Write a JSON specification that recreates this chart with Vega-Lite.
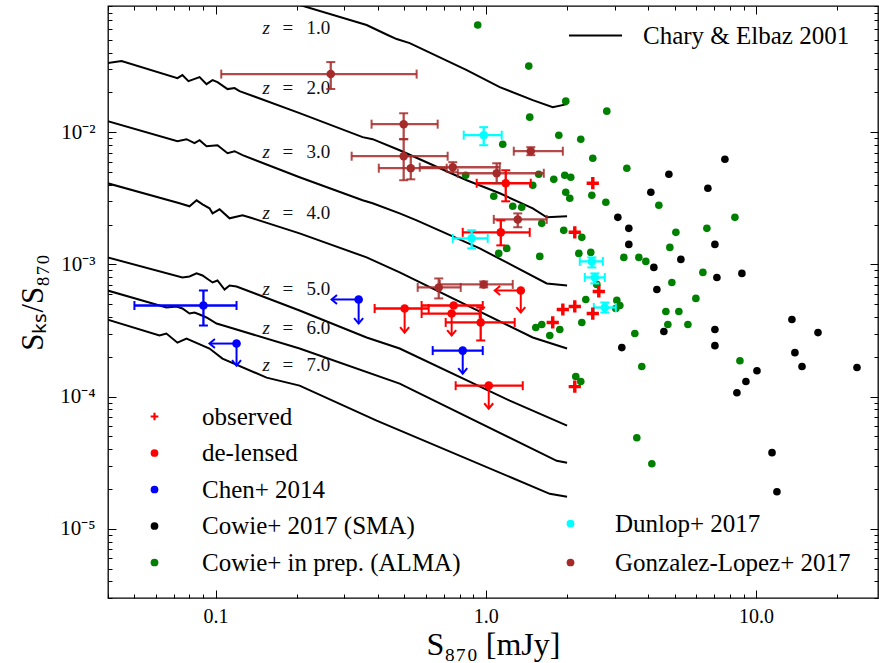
{
  "$schema": "https://vega.github.io/schema/vega-lite/v6.json",
  "width": 770,
  "height": 592,
  "autosize": {"type": "none"},
  "padding": {"left": 108, "top": 6, "right": 1, "bottom": 65},
  "background": "white",
  "config": {
    "view": {"stroke": "black", "strokeWidth": 1.3},
    "axis": {"grid": false, "domain": false, "tickColor": "black", "tickWidth": 1, "labelColor": "black", "titleColor": "black", "labelFont": "Liberation Serif", "titleFont": "Liberation Serif", "titleFontWeight": "normal"},
    "legend": {"labelFont": "Liberation Serif", "labelColor": "black"}
  },
  "datasets": {
    "curves": [
      {"z": "1", "x": 0.0398, "y": 0.2193}, {"z": "1", "x": 0.1227, "y": 0.1345}, {"z": "1", "x": 0.2047, "y": 0.0917}, {"z": "1", "x": 0.3624, "y": 0.0646}, {"z": "1", "x": 0.4335, "y": 0.0543}, {"z": "1", "x": 0.4682, "y": 0.0506}, {"z": "1", "x": 0.5232, "y": 0.0472}, {"z": "1", "x": 0.8505, "y": 0.0295}, {"z": "1", "x": 1.127, "y": 0.02193}, {"z": "1", "x": 1.493, "y": 0.01748}, {"z": "1", "x": 1.77, "y": 0.01547}, {"z": "1", "x": 2.0, "y": 0.0163},
      {"z": "2", "x": 0.0398, "y": 0.03333}, {"z": "2", "x": 0.0449, "y": 0.03451}, {"z": "2", "x": 0.0723, "y": 0.02564}, {"z": "2", "x": 0.0754, "y": 0.02703}, {"z": "2", "x": 0.0794, "y": 0.02434}, {"z": "2", "x": 0.0873, "y": 0.0261}, {"z": "2", "x": 0.0926, "y": 0.0231}, {"z": "2", "x": 0.0975, "y": 0.02477}, {"z": "2", "x": 0.1017, "y": 0.02392}, {"z": "2", "x": 0.1108, "y": 0.02118}, {"z": "2", "x": 0.1176, "y": 0.02154}, {"z": "2", "x": 0.1227, "y": 0.02045}, {"z": "2", "x": 0.2047, "y": 0.01393}, {"z": "2", "x": 0.3503, "y": 0.00917}, {"z": "2", "x": 0.3815, "y": 0.00885}, {"z": "2", "x": 0.4803, "y": 0.0073}, {"z": "2", "x": 0.8505, "y": 0.00433}, {"z": "2", "x": 1.127, "y": 0.00345}, {"z": "2", "x": 1.493, "y": 0.002655}, {"z": "2", "x": 1.682, "y": 0.00227}, {"z": "2", "x": 2.0, "y": 0.00231},
      {"z": "3", "x": 0.0398, "y": 0.01212}, {"z": "3", "x": 0.0723, "y": 0.00855}, {"z": "3", "x": 0.0781, "y": 0.00885}, {"z": "3", "x": 0.0836, "y": 0.00825}, {"z": "3", "x": 0.0873, "y": 0.0087}, {"z": "3", "x": 0.0926, "y": 0.00783}, {"z": "3", "x": 0.1017, "y": 0.00797}, {"z": "3", "x": 0.1108, "y": 0.00693}, {"z": "3", "x": 0.1176, "y": 0.00718}, {"z": "3", "x": 0.1259, "y": 0.0067}, {"z": "3", "x": 0.2047, "y": 0.00456}, {"z": "3", "x": 0.3503, "y": 0.003053}, {"z": "3", "x": 0.3815, "y": 0.002897}, {"z": "3", "x": 0.4803, "y": 0.002434}, {"z": "3", "x": 0.5552, "y": 0.002154}, {"z": "3", "x": 0.9501, "y": 0.001322}, {"z": "3", "x": 1.682, "y": 0.000718}, {"z": "3", "x": 2.0, "y": 0.000693},
      {"z": "4", "x": 0.0398, "y": 0.00411}, {"z": "4", "x": 0.0736, "y": 0.002897}, {"z": "4", "x": 0.0801, "y": 0.002751}, {"z": "4", "x": 0.0851, "y": 0.003053}, {"z": "4", "x": 0.0895, "y": 0.002848}, {"z": "4", "x": 0.095, "y": 0.002655}, {"z": "4", "x": 0.0975, "y": 0.002434}, {"z": "4", "x": 0.1035, "y": 0.00261}, {"z": "4", "x": 0.1127, "y": 0.002231}, {"z": "4", "x": 0.1259, "y": 0.00235}, {"z": "4", "x": 0.1371, "y": 0.002231}, {"z": "4", "x": 0.2047, "y": 0.001717}, {"z": "4", "x": 0.3624, "y": 0.00113}, {"z": "4", "x": 0.4803, "y": 0.00087}, {"z": "4", "x": 1.493, "y": 0.00028}, {"z": "4", "x": 2.0, "y": 0.000231},
      {"z": "5", "x": 0.0398, "y": 0.00113}, {"z": "5", "x": 0.0754, "y": 0.000797}, {"z": "5", "x": 0.0801, "y": 0.000811}, {"z": "5", "x": 0.0851, "y": 0.000855}, {"z": "5", "x": 0.0895, "y": 0.000825}, {"z": "5", "x": 0.0975, "y": 0.00073}, {"z": "5", "x": 0.1017, "y": 0.000756}, {"z": "5", "x": 0.108, "y": 0.000646}, {"z": "5", "x": 0.1127, "y": 0.000693}, {"z": "5", "x": 0.1196, "y": 0.000681}, {"z": "5", "x": 0.2047, "y": 0.000448}, {"z": "5", "x": 0.3624, "y": 0.00028}, {"z": "5", "x": 0.4803, "y": 0.000231}, {"z": "5", "x": 1.227, "y": 0.0000933}, {"z": "5", "x": 2.0, "y": 0.0000603},
      {"z": "6", "x": 0.0398, "y": 0.000635}, {"z": "6", "x": 0.0658, "y": 0.000472}, {"z": "6", "x": 0.0717, "y": 0.000481}, {"z": "6", "x": 0.0754, "y": 0.000464}, {"z": "6", "x": 0.0801, "y": 0.000425}, {"z": "6", "x": 0.0836, "y": 0.000433}, {"z": "6", "x": 0.0873, "y": 0.000418}, {"z": "6", "x": 0.0926, "y": 0.000397}, {"z": "6", "x": 0.1009, "y": 0.000357}, {"z": "6", "x": 0.1099, "y": 0.000339}, {"z": "6", "x": 0.2047, "y": 0.000231}, {"z": "6", "x": 0.4803, "y": 0.0001254}, {"z": "6", "x": 1.832, "y": 0.0000327}, {"z": "6", "x": 2.0, "y": 0.0000316},
      {"z": "7", "x": 0.0398, "y": 0.000383}, {"z": "7", "x": 0.062, "y": 0.00029}, {"z": "7", "x": 0.0658, "y": 0.0003}, {"z": "7", "x": 0.0723, "y": 0.000256}, {"z": "7", "x": 0.0781, "y": 0.000275}, {"z": "7", "x": 0.095, "y": 0.000231}, {"z": "7", "x": 0.1061, "y": 0.000194}, {"z": "7", "x": 0.1545, "y": 0.0001393}, {"z": "7", "x": 0.2047, "y": 0.0001212}, {"z": "7", "x": 0.3948, "y": 0.0000658}, {"z": "7", "x": 1.726, "y": 0.0000184}, {"z": "7", "x": 2.0, "y": 0.0000175}
    ],
    "zlab": [
      {"z": "1.0", "x": 0.1493, "y": 0.0614},
      {"z": "2.0", "x": 0.1493, "y": 0.02154},
      {"z": "3.0", "x": 0.1493, "y": 0.00706},
      {"z": "4.0", "x": 0.1493, "y": 0.002434},
      {"z": "5.0", "x": 0.1493, "y": 0.000646},
      {"z": "6.0", "x": 0.1493, "y": 0.000333},
      {"z": "7.0", "x": 0.1493, "y": 0.0001748}
    ],
    "pts": [
      {"series": "observed", "x": 2.49, "y": 0.00411},
      {"series": "observed", "x": 2.136, "y": 0.001748},
      {"series": "observed", "x": 2.621, "y": 0.000624},
      {"series": "observed", "x": 2.136, "y": 0.000481},
      {"series": "observed", "x": 1.929, "y": 0.000456},
      {"series": "observed", "x": 2.49, "y": 0.000425},
      {"series": "observed", "x": 1.77, "y": 0.000364},
      {"series": "observed", "x": 2.136, "y": 0.000119},
      {"series": "de-lensed", "x": 1.186, "y": 0.00411, "xlo": 0.926, "xhi": 1.468, "ylo": 0.003, "yhi": 0.00515},
      {"series": "de-lensed", "x": 1.137, "y": 0.001748, "xlo": 0.822, "xhi": 1.455, "ylo": 0.001393, "yhi": 0.002154},
      {"series": "de-lensed", "x": 1.348, "y": 0.000635, "xlim": 1.08, "ylim": 0.000433},
      {"series": "de-lensed", "x": 0.501, "y": 0.000464, "xlo": 0.388, "xhi": 0.615, "ylim": 0.000305},
      {"series": "de-lensed", "x": 0.761, "y": 0.000489, "xlo": 0.579, "xhi": 0.975},
      {"series": "de-lensed", "x": 0.748, "y": 0.000425, "xlo": 0.579, "xhi": 0.95, "ylim": 0.00029},
      {"series": "de-lensed", "x": 0.958, "y": 0.000364, "xlo": 0.711, "xhi": 1.28, "ylo": 0.000266, "yhi": 0.000472},
      {"series": "de-lensed", "x": 1.026, "y": 0.000121, "xlo": 0.774, "xhi": 1.371, "ylim": 0.0000811},
      {"series": "Chen+ 2014", "x": 0.0902, "y": 0.000489, "xlo": 0.0501, "xhi": 0.1196, "ylo": 0.000345, "yhi": 0.000635},
      {"series": "Chen+ 2014", "x": 0.3386, "y": 0.000543, "xlim": 0.2689, "ylim": 0.000357},
      {"series": "Chen+ 2014", "x": 0.1196, "y": 0.000252, "xlim": 0.095, "ylim": 0.0001717},
      {"series": "Chen+ 2014", "x": 0.822, "y": 0.000223, "xlo": 0.6364, "xhi": 0.975, "ylim": 0.0001494},
      {"series": "Dunlop+ 2017", "x": 0.983, "y": 0.00949, "xlo": 0.829, "xhi": 1.146, "ylo": 0.00797, "yhi": 0.01091},
      {"series": "Dunlop+ 2017", "x": 0.887, "y": 0.001574, "xlo": 0.755, "xhi": 1.017, "ylo": 0.001322, "yhi": 0.00181},
      {"series": "Dunlop+ 2017", "x": 2.47, "y": 0.001054, "xlo": 2.229, "xhi": 2.713, "ylo": 0.000949, "yhi": 0.00113},
      {"series": "Dunlop+ 2017", "x": 2.534, "y": 0.000797, "xlo": 2.326, "xhi": 2.759, "ylo": 0.000718, "yhi": 0.000855},
      {"series": "Dunlop+ 2017", "x": 2.759, "y": 0.000472, "xlo": 2.512, "xhi": 3.03, "ylo": 0.000433, "yhi": 0.000515},
      {"series": "Gonzalez-Lopez+ 2017", "x": 0.267, "y": 0.0275, "xlo": 0.105, "xhi": 0.555, "ylo": 0.0212, "yhi": 0.0339},
      {"series": "Gonzalez-Lopez+ 2017", "x": 0.497, "y": 0.0115, "xlo": 0.378, "xhi": 0.664, "ylo": 0.00885, "yhi": 0.0139},
      {"series": "Gonzalez-Lopez+ 2017", "x": 0.497, "y": 0.00658, "xlo": 0.319, "xhi": 0.723, "ylo": 0.00433, "yhi": 0.00885},
      {"series": "Gonzalez-Lopez+ 2017", "x": 0.528, "y": 0.00534, "xlo": 0.402, "xhi": 0.717, "ylo": 0.0044, "yhi": 0.00658},
      {"series": "Gonzalez-Lopez+ 2017", "x": 0.755, "y": 0.00543, "xlo": 0.57, "xhi": 1.127, "ylo": 0.00498, "yhi": 0.00593},
      {"series": "Gonzalez-Lopez+ 2017", "x": 1.098, "y": 0.00489, "xlo": 0.788, "xhi": 1.64, "ylo": 0.00411, "yhi": 0.00582},
      {"series": "Gonzalez-Lopez+ 2017", "x": 1.468, "y": 0.00718, "xlo": 1.27, "xhi": 1.929, "ylo": 0.0067, "yhi": 0.0077},
      {"series": "Gonzalez-Lopez+ 2017", "x": 1.314, "y": 0.00219, "xlo": 1.071, "xhi": 1.682, "ylo": 0.00191, "yhi": 0.00243},
      {"series": "Gonzalez-Lopez+ 2017", "x": 0.67, "y": 0.00067, "xlo": 0.56, "xhi": 0.808, "ylo": 0.000553, "yhi": 0.000783},
      {"series": "Gonzalez-Lopez+ 2017", "x": 0.983, "y": 0.000706, "xlo": 0.676, "xhi": 1.259, "ylo": 0.00067, "yhi": 0.000743},
      {"series": "Cowie+ 2017 (SMA)", "x": 7.677, "y": 0.00624},
      {"series": "Cowie+ 2017 (SMA)", "x": 4.763, "y": 0.00481},
      {"series": "Cowie+ 2017 (SMA)", "x": 6.64, "y": 0.003765},
      {"series": "Cowie+ 2017 (SMA)", "x": 4.084, "y": 0.00351},
      {"series": "Cowie+ 2017 (SMA)", "x": 3.083, "y": 0.00227},
      {"series": "Cowie+ 2017 (SMA)", "x": 3.385, "y": 0.001874},
      {"series": "Cowie+ 2017 (SMA)", "x": 3.385, "y": 0.001417},
      {"series": "Cowie+ 2017 (SMA)", "x": 7.05, "y": 0.001417},
      {"series": "Cowie+ 2017 (SMA)", "x": 5.275, "y": 0.001091},
      {"series": "Cowie+ 2017 (SMA)", "x": 4.19, "y": 0.000949},
      {"series": "Cowie+ 2017 (SMA)", "x": 8.874, "y": 0.000855},
      {"series": "Cowie+ 2017 (SMA)", "x": 7.171, "y": 0.000797},
      {"series": "Cowie+ 2017 (SMA)", "x": 4.299, "y": 0.000646},
      {"series": "Cowie+ 2017 (SMA)", "x": 13.59, "y": 0.000383},
      {"series": "Cowie+ 2017 (SMA)", "x": 16.97, "y": 0.000305},
      {"series": "Cowie+ 2017 (SMA)", "x": 7.05, "y": 0.000322},
      {"series": "Cowie+ 2017 (SMA)", "x": 4.563, "y": 0.000311},
      {"series": "Cowie+ 2017 (SMA)", "x": 3.189, "y": 0.000235},
      {"series": "Cowie+ 2017 (SMA)", "x": 7.05, "y": 0.000243},
      {"series": "Cowie+ 2017 (SMA)", "x": 13.94, "y": 0.000215},
      {"series": "Cowie+ 2017 (SMA)", "x": 14.81, "y": 0.000169},
      {"series": "Cowie+ 2017 (SMA)", "x": 23.66, "y": 0.000166},
      {"series": "Cowie+ 2017 (SMA)", "x": 10.09, "y": 0.000157},
      {"series": "Cowie+ 2017 (SMA)", "x": 9.183, "y": 0.00013},
      {"series": "Cowie+ 2017 (SMA)", "x": 8.504, "y": 0.000107},
      {"series": "Cowie+ 2017 (SMA)", "x": 11.47, "y": 0.0000377},
      {"series": "Cowie+ 2017 (SMA)", "x": 11.96, "y": 0.0000191},
      {"series": "Cowie+ in prep. (ALMA)", "x": 0.934, "y": 0.0646},
      {"series": "Cowie+ in prep. (ALMA)", "x": 1.443, "y": 0.03162},
      {"series": "Cowie+ in prep. (ALMA)", "x": 1.978, "y": 0.01717},
      {"series": "Cowie+ in prep. (ALMA)", "x": 2.806, "y": 0.01442},
      {"series": "Cowie+ in prep. (ALMA)", "x": 1.455, "y": 0.01299},
      {"series": "Cowie+ in prep. (ALMA)", "x": 1.864, "y": 0.00949},
      {"series": "Cowie+ in prep. (ALMA)", "x": 2.248, "y": 0.00885},
      {"series": "Cowie+ in prep. (ALMA)", "x": 1.156, "y": 0.00811},
      {"series": "Cowie+ in prep. (ALMA)", "x": 2.49, "y": 0.00635},
      {"series": "Cowie+ in prep. (ALMA)", "x": 3.328, "y": 0.00534},
      {"series": "Cowie+ in prep. (ALMA)", "x": 0.843, "y": 0.00472},
      {"series": "Cowie+ in prep. (ALMA)", "x": 1.571, "y": 0.00481},
      {"series": "Cowie+ in prep. (ALMA)", "x": 1.786, "y": 0.0044},
      {"series": "Cowie+ in prep. (ALMA)", "x": 1.961, "y": 0.00472},
      {"series": "Cowie+ in prep. (ALMA)", "x": 2.064, "y": 0.00456},
      {"series": "Cowie+ in prep. (ALMA)", "x": 1.493, "y": 0.00397},
      {"series": "Cowie+ in prep. (ALMA)", "x": 1.071, "y": 0.003273},
      {"series": "Cowie+ in prep. (ALMA)", "x": 1.978, "y": 0.00351},
      {"series": "Cowie+ in prep. (ALMA)", "x": 2.047, "y": 0.003162},
      {"series": "Cowie+ in prep. (ALMA)", "x": 2.47, "y": 0.003333},
      {"series": "Cowie+ in prep. (ALMA)", "x": 2.783, "y": 0.002949},
      {"series": "Cowie+ in prep. (ALMA)", "x": 4.372, "y": 0.0028},
      {"series": "Cowie+ in prep. (ALMA)", "x": 1.259, "y": 0.002751},
      {"series": "Cowie+ in prep. (ALMA)", "x": 1.359, "y": 0.002703},
      {"series": "Cowie+ in prep. (ALMA)", "x": 8.36, "y": 0.00227},
      {"series": "Cowie+ in prep. (ALMA)", "x": 1.944, "y": 0.00181},
      {"series": "Cowie+ in prep. (ALMA)", "x": 2.268, "y": 0.001602},
      {"series": "Cowie+ in prep. (ALMA)", "x": 6.584, "y": 0.001874},
      {"series": "Cowie+ in prep. (ALMA)", "x": 5.055, "y": 0.001748},
      {"series": "Cowie+ in prep. (ALMA)", "x": 4.802, "y": 0.001345},
      {"series": "Cowie+ in prep. (ALMA)", "x": 1.585, "y": 0.00115},
      {"series": "Cowie+ in prep. (ALMA)", "x": 2.211, "y": 0.001212},
      {"series": "Cowie+ in prep. (ALMA)", "x": 2.448, "y": 0.001233},
      {"series": "Cowie+ in prep. (ALMA)", "x": 3.244, "y": 0.00113},
      {"series": "Cowie+ in prep. (ALMA)", "x": 3.687, "y": 0.00113},
      {"series": "Cowie+ in prep. (ALMA)", "x": 3.914, "y": 0.001054},
      {"series": "Cowie+ in prep. (ALMA)", "x": 6.364, "y": 0.00087},
      {"series": "Cowie+ in prep. (ALMA)", "x": 4.885, "y": 0.00073},
      {"series": "Cowie+ in prep. (ALMA)", "x": 2.577, "y": 0.000706},
      {"series": "Cowie+ in prep. (ALMA)", "x": 5.995, "y": 0.000553},
      {"series": "Cowie+ in prep. (ALMA)", "x": 2.346, "y": 0.000543},
      {"series": "Cowie+ in prep. (ALMA)", "x": 3.057, "y": 0.000534},
      {"series": "Cowie+ in prep. (ALMA)", "x": 3.136, "y": 0.000489},
      {"series": "Cowie+ in prep. (ALMA)", "x": 3.03, "y": 0.000464},
      {"series": "Cowie+ in prep. (ALMA)", "x": 4.642, "y": 0.00044},
      {"series": "Cowie+ in prep. (ALMA)", "x": 5.185, "y": 0.00044},
      {"series": "Cowie+ in prep. (ALMA)", "x": 2.268, "y": 0.000364},
      {"series": "Cowie+ in prep. (ALMA)", "x": 1.88, "y": 0.000322},
      {"series": "Cowie+ in prep. (ALMA)", "x": 1.726, "y": 0.00029},
      {"series": "Cowie+ in prep. (ALMA)", "x": 4.721, "y": 0.000351},
      {"series": "Cowie+ in prep. (ALMA)", "x": 5.601, "y": 0.000351},
      {"series": "Cowie+ in prep. (ALMA)", "x": 3.563, "y": 0.0003},
      {"series": "Cowie+ in prep. (ALMA)", "x": 3.781, "y": 0.000169},
      {"series": "Cowie+ in prep. (ALMA)", "x": 8.725, "y": 0.000187},
      {"series": "Cowie+ in prep. (ALMA)", "x": 2.154, "y": 0.000142},
      {"series": "Cowie+ in prep. (ALMA)", "x": 2.248, "y": 0.00013},
      {"series": "Cowie+ in prep. (ALMA)", "x": 3.624, "y": 0.0000489},
      {"series": "Cowie+ in prep. (ALMA)", "x": 4.119, "y": 0.0000311},
      {"series": "Cowie+ in prep. (ALMA)", "x": 1.196, "y": 0.001322},
      {"series": "Cowie+ in prep. (ALMA)", "x": 1.117, "y": 0.001212},
      {"series": "Cowie+ in prep. (ALMA)", "x": 1.532, "y": 0.000333},
      {"series": "Cowie+ in prep. (ALMA)", "x": 1.612, "y": 0.000351},
      {"series": "Cowie+ in prep. (ALMA)", "x": 1.612, "y": 0.002045}
    ]
  },
  "layer": [
    {
      "layer": [
        {
          "data": {"name": "curves"},
          "mark": {"type": "line", "clip": true, "strokeWidth": 2},
          "encoding": {
            "x": {"field": "x", "type": "quantitative", "scale": {"type": "log", "domain": [0.04, 28.3], "nice": false}, "title": "S₈₇₀ [mJy]",
              "axis": {"orient": "bottom", "values": [0.1, 1, 10], "offset": -8, "tickSize": 8,
                "labelExpr": "datum.value == 0.1 ? '0.1' : datum.value == 1 ? '1.0' : '10.0'",
                "labelFontSize": 20, "labelPadding": 8, "labelOverlap": false, "labelFlush": false, "titleFontSize": 32, "titlePadding": 3}},
            "y": {"field": "y", "type": "quantitative", "scale": {"type": "log", "domain": [0.000003, 0.09], "nice": false}, "title": "Sₖₛ/S₈₇₀",
              "axis": {"orient": "left", "values": [0.00001, 0.0001, 0.001, 0.01], "offset": -8, "tickSize": 8,
                "labelExpr": "datum.value == 0.01 ? '10⁻²' : datum.value == 0.001 ? '10⁻³' : datum.value == 0.0001 ? '10⁻⁴' : '10⁻⁵'",
                "labelFontSize": 21, "labelPadding": 13, "labelOverlap": false, "labelFlush": false, "titleFontSize": 31, "titlePadding": 10}},
            "detail": {"field": "z", "type": "nominal"},
            "order": {"field": "x", "type": "quantitative"},
            "stroke": {"datum": "Chary & Elbaz 2001", "type": "nominal", "scale": {"domain": ["Chary & Elbaz 2001"], "range": ["#000000"]},
              "legend": {"orient": "none", "legendX": 460, "legendY": 2, "title": null, "symbolType": "stroke", "symbolSize": 2809, "symbolStrokeWidth": 2, "labelFontSize": 25, "labelOffset": 20, "padding": 0, "labelLimit": 400}}
          }
        },
        {
          "data": {"name": "zlab"},
          "mark": {"type": "text", "align": "left", "baseline": "middle", "font": "Liberation Serif", "fontSize": 19, "fontStyle": "italic", "color": "#111111"},
          "encoding": {
            "x": {"field": "x", "type": "quantitative", "scale": {"type": "log", "domain": [0.04, 28.3], "nice": false}, "title": "S₈₇₀ [mJy]"},
            "y": {"field": "y", "type": "quantitative", "scale": {"type": "log", "domain": [0.000003, 0.09], "nice": false}, "title": "Sₖₛ/S₈₇₀"},
            "text": {"value": "z"}
          }
        },
        {
          "data": {"name": "zlab"},
          "mark": {"type": "text", "align": "left", "baseline": "middle", "font": "Liberation Serif", "fontSize": 19, "dx": 20, "color": "#111111"},
          "encoding": {
            "x": {"field": "x", "type": "quantitative", "scale": {"type": "log", "domain": [0.04, 28.3], "nice": false}, "title": "S₈₇₀ [mJy]"},
            "y": {"field": "y", "type": "quantitative", "scale": {"type": "log", "domain": [0.000003, 0.09], "nice": false}, "title": "Sₖₛ/S₈₇₀"},
            "text": {"value": "="}
          }
        },
        {
          "data": {"name": "zlab"},
          "mark": {"type": "text", "align": "left", "baseline": "middle", "font": "Liberation Serif", "fontSize": 19, "dx": 44, "color": "#111111"},
          "encoding": {
            "x": {"field": "x", "type": "quantitative", "scale": {"type": "log", "domain": [0.04, 28.3], "nice": false}, "title": "S₈₇₀ [mJy]"},
            "y": {"field": "y", "type": "quantitative", "scale": {"type": "log", "domain": [0.000003, 0.09], "nice": false}, "title": "Sₖₛ/S₈₇₀"},
            "text": {"field": "z", "type": "nominal"}
          }
        },
        {
          "data": {"name": "pts"},
          "transform": [{"filter": "datum.series == 'Cowie+ 2017 (SMA)' || datum.series == 'Cowie+ in prep. (ALMA)'"}],
          "mark": {"type": "point", "filled": true, "opacity": 1, "size": 58, "strokeWidth": 0, "clip": true},
          "encoding": {
            "x": {"field": "x", "type": "quantitative", "scale": {"type": "log", "domain": [0.04, 28.3], "nice": false}, "title": "S₈₇₀ [mJy]"},
            "y": {"field": "y", "type": "quantitative", "scale": {"type": "log", "domain": [0.000003, 0.09], "nice": false}, "title": "Sₖₛ/S₈₇₀"},
            "color": {"field": "series", "type": "nominal", "scale": {"domain": ["observed", "de-lensed", "Chen+ 2014", "Cowie+ 2017 (SMA)", "Cowie+ in prep. (ALMA)"], "range": ["#ff0000", "#ff0000", "#0000ff", "#000000", "#008000"]},
              "legend": {"orient": "none", "legendX": 34, "legendY": 398, "title": null, "symbolSize": 60, "symbolStrokeWidth": 0, "labelFontSize": 25, "labelOffset": 35, "rowPadding": 10.5, "padding": 0, "labelLimit": 400}},
            "shape": {"field": "series", "type": "nominal", "scale": {"domain": ["observed", "de-lensed", "Chen+ 2014", "Cowie+ 2017 (SMA)", "Cowie+ in prep. (ALMA)"], "range": ["M-1,-0.28H-0.28V-1H0.28V-0.28H1V0.28H0.28V1H-0.28V0.28H-1Z", "circle", "circle", "circle", "circle"]}}
          }
        },
        {
          "data": {"name": "pts"},
          "transform": [{"filter": "isValid(datum.xlo)"}],
          "mark": {"type": "rule", "strokeWidth": 2.3},
          "encoding": {
            "x": {"field": "xlo", "type": "quantitative", "scale": {"type": "log", "domain": [0.04, 28.3], "nice": false}, "title": "S₈₇₀ [mJy]"},
            "x2": {"field": "xhi"},
            "y": {"field": "y", "type": "quantitative", "scale": {"type": "log", "domain": [0.000003, 0.09], "nice": false}, "title": "Sₖₛ/S₈₇₀"},
            "color": {"condition": [{"test": "datum.series == 'Gonzalez-Lopez+ 2017'", "value": "#a52a2a"}, {"test": "datum.series == 'Dunlop+ 2017'", "value": "#00ffff"}, {"test": "datum.series == 'Chen+ 2014'", "value": "#0000ff"}], "value": "#ff0000"},
            "opacity": {"condition": {"test": "datum.series == 'Gonzalez-Lopez+ 2017'", "value": 0.85}, "value": 1}
          }
        },
        {
          "data": {"name": "pts"},
          "transform": [{"filter": "isValid(datum.ylo)"}],
          "mark": {"type": "rule", "strokeWidth": 2.3},
          "encoding": {
            "x": {"field": "x", "type": "quantitative", "scale": {"type": "log", "domain": [0.04, 28.3], "nice": false}, "title": "S₈₇₀ [mJy]"},
            "y": {"field": "ylo", "type": "quantitative", "scale": {"type": "log", "domain": [0.000003, 0.09], "nice": false}, "title": "Sₖₛ/S₈₇₀"},
            "y2": {"field": "yhi"},
            "color": {"condition": [{"test": "datum.series == 'Gonzalez-Lopez+ 2017'", "value": "#a52a2a"}, {"test": "datum.series == 'Dunlop+ 2017'", "value": "#00ffff"}, {"test": "datum.series == 'Chen+ 2014'", "value": "#0000ff"}], "value": "#ff0000"},
            "opacity": {"condition": {"test": "datum.series == 'Gonzalez-Lopez+ 2017'", "value": 0.85}, "value": 1}
          }
        },
        {
          "data": {"name": "pts"},
          "transform": [{"filter": "isValid(datum.xlo)"}, {"fold": ["xlo", "xhi"], "as": ["k", "xv"]}],
          "mark": {"type": "tick", "orient": "vertical", "size": 9, "thickness": 2},
          "encoding": {
            "x": {"field": "xv", "type": "quantitative", "scale": {"type": "log", "domain": [0.04, 28.3], "nice": false}, "title": "S₈₇₀ [mJy]"},
            "y": {"field": "y", "type": "quantitative", "scale": {"type": "log", "domain": [0.000003, 0.09], "nice": false}, "title": "Sₖₛ/S₈₇₀"},
            "color": {"condition": [{"test": "datum.series == 'Gonzalez-Lopez+ 2017'", "value": "#a52a2a"}, {"test": "datum.series == 'Dunlop+ 2017'", "value": "#00ffff"}, {"test": "datum.series == 'Chen+ 2014'", "value": "#0000ff"}], "value": "#ff0000"},
            "opacity": {"condition": {"test": "datum.series == 'Gonzalez-Lopez+ 2017'", "value": 0.85}, "value": 1}
          }
        },
        {
          "data": {"name": "pts"},
          "transform": [{"filter": "isValid(datum.ylo)"}, {"fold": ["ylo", "yhi"], "as": ["k", "yv"]}],
          "mark": {"type": "tick", "orient": "horizontal", "size": 9, "thickness": 2},
          "encoding": {
            "x": {"field": "x", "type": "quantitative", "scale": {"type": "log", "domain": [0.04, 28.3], "nice": false}, "title": "S₈₇₀ [mJy]"},
            "y": {"field": "yv", "type": "quantitative", "scale": {"type": "log", "domain": [0.000003, 0.09], "nice": false}, "title": "Sₖₛ/S₈₇₀"},
            "color": {"condition": [{"test": "datum.series == 'Gonzalez-Lopez+ 2017'", "value": "#a52a2a"}, {"test": "datum.series == 'Dunlop+ 2017'", "value": "#00ffff"}, {"test": "datum.series == 'Chen+ 2014'", "value": "#0000ff"}], "value": "#ff0000"},
            "opacity": {"condition": {"test": "datum.series == 'Gonzalez-Lopez+ 2017'", "value": 0.85}, "value": 1}
          }
        },
        {
          "data": {"name": "pts"},
          "transform": [{"filter": "isValid(datum.ylim)"}],
          "mark": {"type": "rule", "strokeWidth": 2},
          "encoding": {
            "x": {"field": "x", "type": "quantitative", "scale": {"type": "log", "domain": [0.04, 28.3], "nice": false}, "title": "S₈₇₀ [mJy]"},
            "y": {"field": "y", "type": "quantitative", "scale": {"type": "log", "domain": [0.000003, 0.09], "nice": false}, "title": "Sₖₛ/S₈₇₀"},
            "y2": {"field": "ylim"},
            "color": {"condition": {"test": "datum.series == 'Chen+ 2014'", "value": "#0000ff"}, "value": "#ff0000"}
          }
        },
        {
          "data": {"name": "pts"},
          "transform": [{"filter": "isValid(datum.ylim)"}],
          "mark": {"type": "point", "filled": false, "strokeWidth": 2, "size": 81, "shape": "M-1,-1.2L0,0L1,-1.2", "opacity": 1},
          "encoding": {
            "x": {"field": "x", "type": "quantitative", "scale": {"type": "log", "domain": [0.04, 28.3], "nice": false}, "title": "S₈₇₀ [mJy]"},
            "y": {"field": "ylim", "type": "quantitative", "scale": {"type": "log", "domain": [0.000003, 0.09], "nice": false}, "title": "Sₖₛ/S₈₇₀"},
            "color": {"condition": {"test": "datum.series == 'Chen+ 2014'", "value": "#0000ff"}, "value": "#ff0000"}
          }
        },
        {
          "data": {"name": "pts"},
          "transform": [{"filter": "isValid(datum.xlim)"}],
          "mark": {"type": "rule", "strokeWidth": 2},
          "encoding": {
            "x": {"field": "x", "type": "quantitative", "scale": {"type": "log", "domain": [0.04, 28.3], "nice": false}, "title": "S₈₇₀ [mJy]"},
            "x2": {"field": "xlim"},
            "y": {"field": "y", "type": "quantitative", "scale": {"type": "log", "domain": [0.000003, 0.09], "nice": false}, "title": "Sₖₛ/S₈₇₀"},
            "color": {"condition": {"test": "datum.series == 'Chen+ 2014'", "value": "#0000ff"}, "value": "#ff0000"}
          }
        },
        {
          "data": {"name": "pts"},
          "transform": [{"filter": "isValid(datum.xlim)"}],
          "mark": {"type": "point", "filled": false, "strokeWidth": 2, "size": 81, "shape": "M1.2,-1L0,0L1.2,1", "opacity": 1},
          "encoding": {
            "x": {"field": "xlim", "type": "quantitative", "scale": {"type": "log", "domain": [0.04, 28.3], "nice": false}, "title": "S₈₇₀ [mJy]"},
            "y": {"field": "y", "type": "quantitative", "scale": {"type": "log", "domain": [0.000003, 0.09], "nice": false}, "title": "Sₖₛ/S₈₇₀"},
            "color": {"condition": {"test": "datum.series == 'Chen+ 2014'", "value": "#0000ff"}, "value": "#ff0000"}
          }
        },
        {
          "data": {"name": "pts"},
          "transform": [{"filter": "datum.series == 'observed' || datum.series == 'de-lensed' || datum.series == 'Chen+ 2014'"}],
          "mark": {"type": "point", "filled": true, "opacity": 1, "strokeWidth": 0},
          "encoding": {
            "x": {"field": "x", "type": "quantitative", "scale": {"type": "log", "domain": [0.04, 28.3], "nice": false}, "title": "S₈₇₀ [mJy]"},
            "y": {"field": "y", "type": "quantitative", "scale": {"type": "log", "domain": [0.000003, 0.09], "nice": false}, "title": "Sₖₛ/S₈₇₀"},
            "color": {"field": "series", "type": "nominal", "scale": {"domain": ["observed", "de-lensed", "Chen+ 2014", "Cowie+ 2017 (SMA)", "Cowie+ in prep. (ALMA)"], "range": ["#ff0000", "#ff0000", "#0000ff", "#000000", "#008000"]},
              "legend": {"orient": "none", "legendX": 34, "legendY": 398, "title": null, "symbolSize": 60, "symbolStrokeWidth": 0, "labelFontSize": 25, "labelOffset": 35, "rowPadding": 10.5, "padding": 0, "labelLimit": 400}},
            "shape": {"field": "series", "type": "nominal", "scale": {"domain": ["observed", "de-lensed", "Chen+ 2014", "Cowie+ 2017 (SMA)", "Cowie+ in prep. (ALMA)"], "range": ["M-1,-0.28H-0.28V-1H0.28V-0.28H1V0.28H0.28V1H-0.28V0.28H-1Z", "circle", "circle", "circle", "circle"]}},
            "size": {"condition": {"test": "datum.series == 'observed'", "value": 150}, "value": 75}
          }
        },
        {
          "data": {"name": "pts"},
          "transform": [{"filter": "datum.series == 'Dunlop+ 2017' || datum.series == 'Gonzalez-Lopez+ 2017'"}],
          "mark": {"type": "point", "filled": true, "opacity": 1, "strokeWidth": 0, "shape": "circle", "size": 72},
          "encoding": {
            "x": {"field": "x", "type": "quantitative", "scale": {"type": "log", "domain": [0.04, 28.3], "nice": false}, "title": "S₈₇₀ [mJy]"},
            "y": {"field": "y", "type": "quantitative", "scale": {"type": "log", "domain": [0.000003, 0.09], "nice": false}, "title": "Sₖₛ/S₈₇₀"},
            "fill": {"field": "series", "type": "nominal", "scale": {"domain": ["Dunlop+ 2017", "Gonzalez-Lopez+ 2017"], "range": ["#00ffff", "#a52a2a"]},
              "legend": {"orient": "none", "legendX": 450, "legendY": 505, "title": null, "symbolSize": 60, "symbolStrokeWidth": 0, "labelFontSize": 25, "labelOffset": 32, "rowPadding": 13, "padding": 0, "labelLimit": 400}}
          }
        }
      ]
    },
    {
      "data": {"name": "curves"},
      "mark": {"type": "point", "opacity": 0},
      "encoding": {
        "x": {"field": "x", "type": "quantitative", "scale": {"type": "log", "domain": [0.04, 28.3], "nice": false},
          "axis": {"orient": "bottom", "title": null, "labels": false, "offset": -4, "tickSize": 4, "values": [0.04,0.05,0.06,0.07,0.08,0.09,0.2,0.3,0.4,0.5,0.6,0.7,0.8,0.9,2,3,4,5,6,7,8,9,20]}},
        "y": {"field": "y", "type": "quantitative", "scale": {"type": "log", "domain": [0.000003, 0.09], "nice": false},
          "axis": {"orient": "left", "title": null, "labels": false, "offset": -4, "tickSize": 4, "values": [0.000003,0.000004,0.000005,0.000006,0.000007,0.000008,0.000009,0.00002,0.00003,0.00004,0.00005,0.00006,0.00007,0.00008,0.00009,0.0002,0.0003,0.0004,0.0005,0.0006,0.0007,0.0008,0.0009,0.002,0.003,0.004,0.005,0.006,0.007,0.008,0.009,0.02,0.03,0.04,0.05,0.06,0.07,0.08,0.09]}}
      }
    },
    {
      "data": {"name": "curves"},
      "mark": {"type": "point", "opacity": 0},
      "encoding": {
        "x": {"field": "x", "type": "quantitative", "scale": {"type": "log", "domain": [0.04, 28.3], "nice": false},
          "axis": {"orient": "top", "title": null, "labels": false, "offset": -8, "tickSize": 8, "values": [0.1, 1, 10]}},
        "y": {"field": "y", "type": "quantitative", "scale": {"type": "log", "domain": [0.000003, 0.09], "nice": false},
          "axis": {"orient": "right", "title": null, "labels": false, "offset": -8, "tickSize": 8, "values": [0.00001, 0.0001, 0.001, 0.01]}}
      }
    },
    {
      "data": {"name": "curves"},
      "mark": {"type": "point", "opacity": 0},
      "encoding": {
        "x": {"field": "x", "type": "quantitative", "scale": {"type": "log", "domain": [0.04, 28.3], "nice": false},
          "axis": {"orient": "top", "title": null, "labels": false, "offset": -4, "tickSize": 4, "values": [0.04,0.05,0.06,0.07,0.08,0.09,0.2,0.3,0.4,0.5,0.6,0.7,0.8,0.9,2,3,4,5,6,7,8,9,20]}},
        "y": {"field": "y", "type": "quantitative", "scale": {"type": "log", "domain": [0.000003, 0.09], "nice": false},
          "axis": {"orient": "right", "title": null, "labels": false, "offset": -4, "tickSize": 4, "values": [0.000003,0.000004,0.000005,0.000006,0.000007,0.000008,0.000009,0.00002,0.00003,0.00004,0.00005,0.00006,0.00007,0.00008,0.00009,0.0002,0.0003,0.0004,0.0005,0.0006,0.0007,0.0008,0.0009,0.002,0.003,0.004,0.005,0.006,0.007,0.008,0.009,0.02,0.03,0.04,0.05,0.06,0.07,0.08,0.09]}}
      }
    }
  ],
  "resolve": {"axis": {"x": "independent", "y": "independent"}}
}
